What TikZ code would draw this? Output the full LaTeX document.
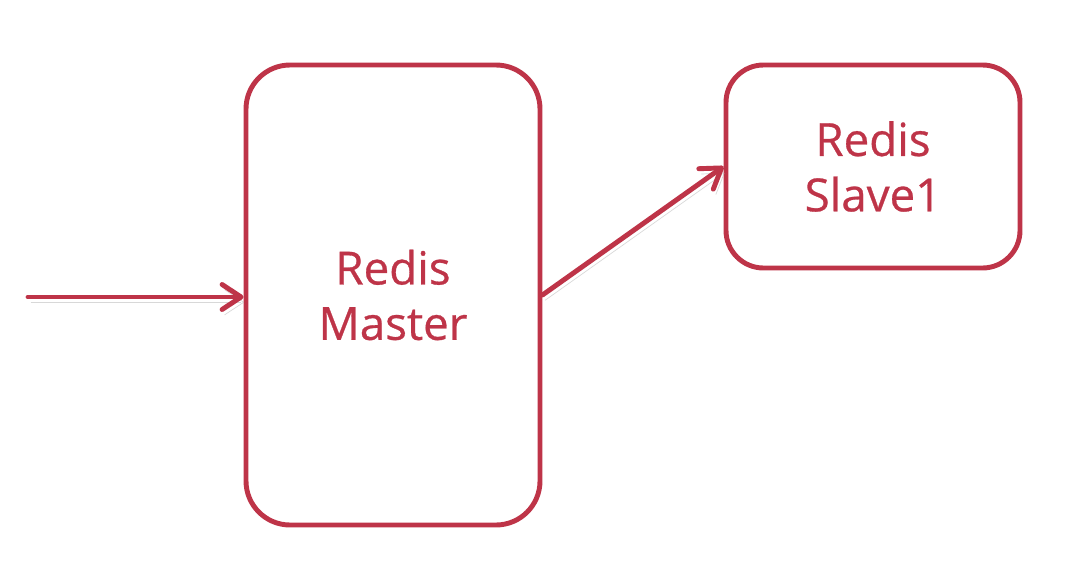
\documentclass[tikz,border=0pt]{standalone}
\usepackage{fontspec}
\setmainfont{Open Sans}[FakeBold=0.6]
\usetikzlibrary{arrows.meta}
\definecolor{redisred}{RGB}{190,52,72}
\tikzset{
  box/.style={draw=redisred, line width=2.8pt, text=redisred, align=center, inner sep=0,
    minimum width=5.88cm, font=\fontsize{26}{31.5}\selectfont},
  link/.style={redisred, line width=2.8pt, line cap=round,
    -{Straight Barb[length=0.38cm, width=0.5cm, round]},
    preaction={draw=black!30, opacity=.5, transform canvas={shift={(1.5pt,-3pt)}}}}
}
\begin{document}
\begin{tikzpicture}
\useasboundingbox (0,0) rectangle (21.72,-11.46);
\node[box, minimum height=9.2cm, rounded corners=0.88cm] (master) at (7.86,-5.9) {Redis\\Master};
\node[box, minimum height=4.06cm, rounded corners=0.75cm] (slave) at (17.46,-3.33) {Redis\\Slave1};
\coordinate (in) at (0.56,-5.94);
\draw[link] (in) -- (in -| master.west);
\draw[link] (master.east) -- (slave.west);
\end{tikzpicture}
\end{document}
